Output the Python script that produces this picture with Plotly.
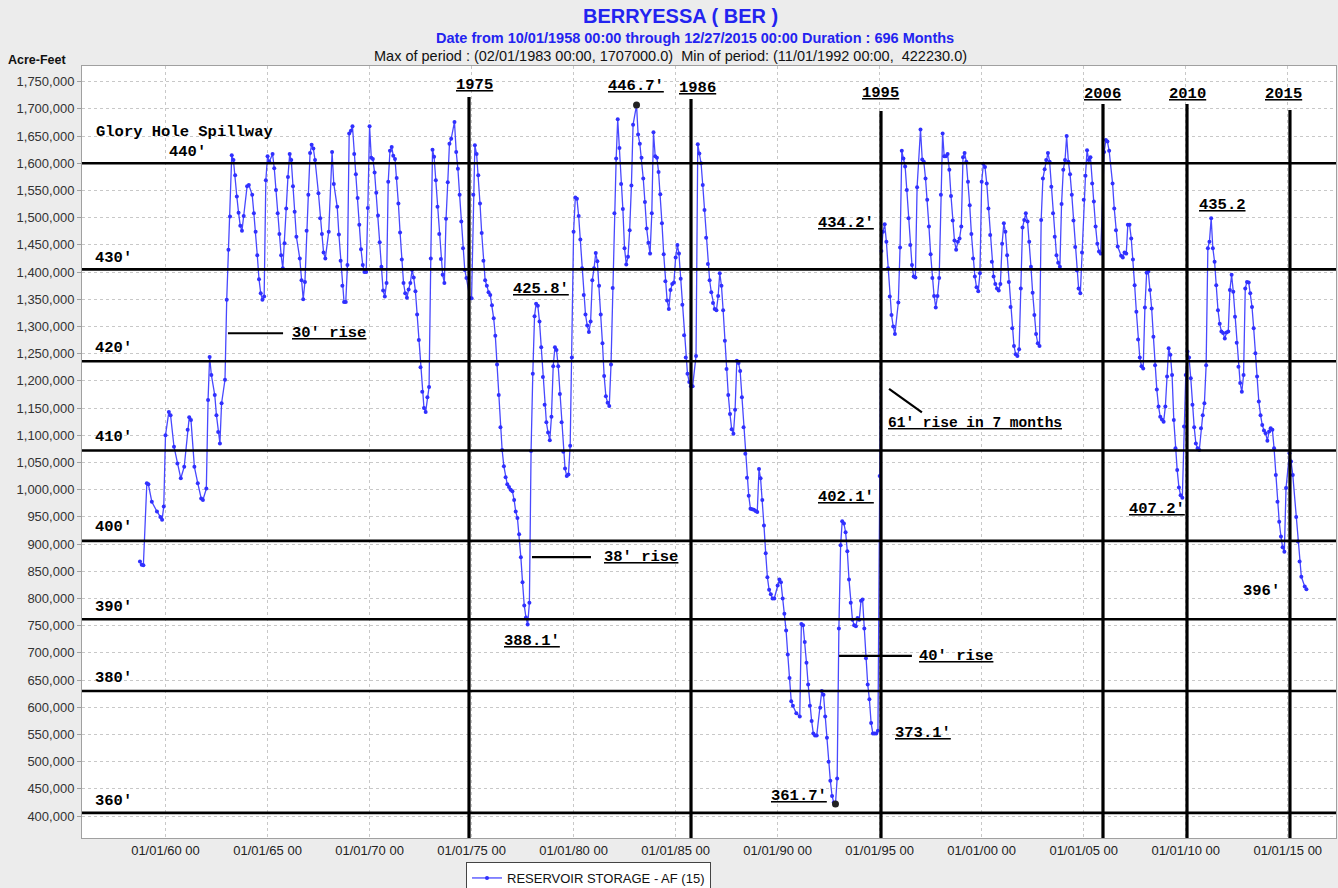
import plotly.graph_objects as go
from datetime import datetime

# ---------------- data ----------------
obs_month = [
    "1958-10", "1958-11", "1958-12",
    "1959-02", "1959-03", "1959-05", "1959-08", "1959-10", "1959-11", "1959-12",
    "1960-01", "1960-03", "1960-04", "1960-06", "1960-08", "1960-10", "1960-12",
    "1961-02", "1961-03", "1961-04", "1961-06", "1961-08", "1961-10", "1961-11",
    "1962-01", "1962-02", "1962-03", "1962-04", "1962-06", "1962-07", "1962-08", "1962-09", "1962-10", "1962-12",
    "1963-01", "1963-02", "1963-03", "1963-04", "1963-05", "1963-06", "1963-07", "1963-08", "1963-09", "1963-10", "1963-11",
    "1964-01", "1964-02", "1964-04", "1964-05", "1964-06", "1964-07", "1964-08", "1964-09", "1964-10", "1964-11", "1964-12",
    "1965-01", "1965-02", "1965-04", "1965-05", "1965-06", "1965-07", "1965-08", "1965-09", "1965-10", "1965-11", "1965-12",
    "1966-01", "1966-02", "1966-03", "1966-04", "1966-05", "1966-06", "1966-08", "1966-09", "1966-10", "1966-11", "1966-12",
    "1967-01", "1967-02", "1967-03", "1967-04", "1967-05", "1967-07", "1967-08", "1967-09", "1967-10", "1967-11",
    "1968-01", "1968-03", "1968-04", "1968-06", "1968-07", "1968-08", "1968-09", "1968-10", "1968-11", "1968-12",
    "1969-01", "1969-02", "1969-03", "1969-04", "1969-05", "1969-06", "1969-07", "1969-08", "1969-09", "1969-10", "1969-11", "1969-12",
    "1970-01", "1970-02", "1970-03", "1970-04", "1970-05", "1970-06", "1970-07", "1970-08", "1970-09", "1970-10", "1970-11", "1970-12",
    "1971-01", "1971-02", "1971-03", "1971-04", "1971-05", "1971-06", "1971-07", "1971-08", "1971-09", "1971-10", "1971-11", "1971-12",
    "1972-01", "1972-02", "1972-03", "1972-04", "1972-05", "1972-06", "1972-07", "1972-08", "1972-09", "1972-10", "1972-11", "1972-12",
    "1973-01", "1973-02", "1973-03", "1973-04", "1973-05", "1973-06", "1973-07", "1973-08", "1973-09", "1973-10", "1973-11", "1973-12",
    "1974-01", "1974-03", "1974-04", "1974-05", "1974-06", "1974-07", "1974-08", "1974-09", "1974-10", "1974-12",
    "1975-01", "1975-02", "1975-03", "1975-04", "1975-05", "1975-06", "1975-07", "1975-08", "1975-09", "1975-10", "1975-11", "1975-12",
    "1976-01", "1976-02", "1976-03", "1976-04", "1976-05", "1976-06", "1976-07", "1976-08", "1976-09", "1976-10", "1976-11", "1976-12",
    "1977-01", "1977-02", "1977-03", "1977-04", "1977-05", "1977-06", "1977-07", "1977-08", "1977-09", "1977-10", "1977-11", "1977-12",
    "1978-01", "1978-02", "1978-03", "1978-04", "1978-05", "1978-06", "1978-07", "1978-08", "1978-09", "1978-10", "1978-11", "1978-12",
    "1979-01", "1979-02", "1979-03", "1979-04", "1979-05", "1979-06", "1979-07", "1979-08", "1979-09", "1979-10", "1979-11", "1979-12",
    "1980-01", "1980-02", "1980-03", "1980-04", "1980-05", "1980-06", "1980-07", "1980-08", "1980-09", "1980-10", "1980-11", "1980-12",
    "1981-01", "1981-02", "1981-03", "1981-04", "1981-05", "1981-06", "1981-07", "1981-08", "1981-09", "1981-10", "1981-11", "1981-12",
    "1982-01", "1982-02", "1982-03", "1982-04", "1982-05", "1982-06", "1982-07", "1982-08", "1982-09", "1982-10", "1982-11", "1982-12",
    "1983-02", "1983-03", "1983-04", "1983-05", "1983-06", "1983-07", "1983-08", "1983-09", "1983-10", "1983-11", "1983-12",
    "1984-01", "1984-02", "1984-03", "1984-04", "1984-05", "1984-06", "1984-07", "1984-08", "1984-09", "1984-10", "1984-11", "1984-12",
    "1985-01", "1985-02", "1985-03", "1985-04", "1985-05", "1985-06", "1985-07", "1985-08", "1985-09", "1985-10", "1985-11",
    "1986-01", "1986-02", "1986-03", "1986-04", "1986-05", "1986-06", "1986-07", "1986-08", "1986-09", "1986-10", "1986-11", "1986-12",
    "1987-01", "1987-02", "1987-03", "1987-04", "1987-05", "1987-06", "1987-07", "1987-08", "1987-09", "1987-10", "1987-11", "1987-12",
    "1988-01", "1988-02", "1988-03", "1988-04", "1988-05", "1988-06", "1988-07", "1988-08", "1988-09", "1988-10", "1988-11", "1988-12",
    "1989-01", "1989-02", "1989-03", "1989-04", "1989-05", "1989-06", "1989-07", "1989-08", "1989-09", "1989-10", "1989-11",
    "1990-01", "1990-02", "1990-03", "1990-04", "1990-05", "1990-06", "1990-07", "1990-08", "1990-09", "1990-10", "1990-12",
    "1991-02", "1991-03", "1991-04", "1991-05", "1991-06", "1991-07", "1991-08", "1991-09", "1991-10", "1991-11", "1991-12",
    "1992-02", "1992-03", "1992-04", "1992-05", "1992-06", "1992-07", "1992-08", "1992-09", "1992-10", "1992-11", "1992-12",
    "1993-01", "1993-02", "1993-03", "1993-04", "1993-05", "1993-06", "1993-07", "1993-08", "1993-09", "1993-10", "1993-11", "1993-12",
    "1994-01", "1994-02", "1994-03", "1994-04", "1994-05", "1994-06", "1994-07", "1994-08", "1994-09", "1994-10", "1994-11", "1994-12",
    "1995-01", "1995-02", "1995-03", "1995-04", "1995-05", "1995-06", "1995-07", "1995-08", "1995-09", "1995-10", "1995-12",
    "1996-01", "1996-02", "1996-03", "1996-04", "1996-05", "1996-06", "1996-07", "1996-08", "1996-09", "1996-10", "1996-11",
    "1997-01", "1997-02", "1997-03", "1997-04", "1997-05", "1997-06", "1997-07", "1997-08", "1997-09", "1997-10", "1997-11", "1997-12",
    "1998-01", "1998-02", "1998-03", "1998-04", "1998-05", "1998-06", "1998-07", "1998-08", "1998-09", "1998-10", "1998-11", "1998-12",
    "1999-01", "1999-02", "1999-03", "1999-04", "1999-05", "1999-06", "1999-07", "1999-08", "1999-09", "1999-10", "1999-11", "1999-12",
    "2000-01", "2000-02", "2000-03", "2000-04", "2000-05", "2000-06", "2000-07", "2000-08", "2000-09", "2000-10", "2000-11", "2000-12",
    "2001-01", "2001-02", "2001-03", "2001-04", "2001-05", "2001-06", "2001-07", "2001-08", "2001-09", "2001-10", "2001-11", "2001-12",
    "2002-01", "2002-02", "2002-03", "2002-04", "2002-05", "2002-06", "2002-07", "2002-08", "2002-09", "2002-10", "2002-11", "2002-12",
    "2003-01", "2003-02", "2003-03", "2003-04", "2003-05", "2003-06", "2003-07", "2003-08", "2003-09", "2003-10", "2003-11", "2003-12",
    "2004-01", "2004-02", "2004-03", "2004-04", "2004-05", "2004-06", "2004-07", "2004-08", "2004-09", "2004-10", "2004-11", "2004-12",
    "2005-01", "2005-02", "2005-03", "2005-04", "2005-05", "2005-06", "2005-07", "2005-08", "2005-09", "2005-10", "2005-11",
    "2006-01", "2006-02", "2006-03", "2006-04", "2006-06", "2006-07", "2006-08", "2006-09", "2006-11", "2006-12",
    "2007-01", "2007-02", "2007-03", "2007-04", "2007-05", "2007-06", "2007-07", "2007-08", "2007-09", "2007-10", "2007-11", "2007-12",
    "2008-01", "2008-02", "2008-03", "2008-04", "2008-05", "2008-06", "2008-07", "2008-08", "2008-09", "2008-10", "2008-11", "2008-12",
    "2009-01", "2009-02", "2009-03", "2009-04", "2009-05", "2009-06", "2009-07", "2009-08", "2009-09", "2009-10", "2009-11", "2009-12",
    "2010-01", "2010-02", "2010-03", "2010-04", "2010-05", "2010-06", "2010-07", "2010-08", "2010-09", "2010-10", "2010-11", "2010-12",
    "2011-01", "2011-02", "2011-03", "2011-04", "2011-05", "2011-06", "2011-07", "2011-08", "2011-09", "2011-10", "2011-11", "2011-12",
    "2012-01", "2012-02", "2012-03", "2012-04", "2012-05", "2012-06", "2012-07", "2012-08", "2012-09", "2012-10", "2012-11", "2012-12",
    "2013-01", "2013-02", "2013-03", "2013-04", "2013-05", "2013-06", "2013-07", "2013-08", "2013-09", "2013-10", "2013-11", "2013-12",
    "2014-01", "2014-02", "2014-03", "2014-04", "2014-05", "2014-06", "2014-07", "2014-08", "2014-09", "2014-10", "2014-11", "2014-12",
    "2015-02", "2015-03", "2015-04", "2015-06", "2015-07", "2015-08", "2015-09", "2015-11", "2015-12",
]

# reservoir storage, thousands of acre-feet
storage_kaf = [
    868, 862, 861,
    1012, 1010, 978, 960, 950, 945, 969,
    1100, 1143, 1137, 1079, 1048, 1021, 1042,
    1110, 1133, 1128, 1042, 1012, 984, 981,
    1002, 1165, 1244, 1211, 1174, 1137, 1106, 1085, 1159, 1202,
    1349, 1441, 1502, 1615, 1606, 1578, 1539, 1509, 1485, 1476, 1503,
    1558, 1560, 1542, 1508, 1474, 1431, 1387, 1361, 1349, 1355, 1569,
    1613, 1603, 1617, 1591, 1551, 1508, 1470, 1431, 1407, 1453, 1517,
    1575, 1617, 1606, 1558, 1511, 1465, 1425, 1385, 1350, 1382, 1476,
    1542, 1619, 1634, 1627, 1606, 1545, 1499, 1470, 1436, 1425,
    1474, 1621, 1562, 1520, 1469, 1421, 1375, 1345, 1345, 1413,
    1655, 1660, 1668, 1617, 1580, 1536, 1487, 1442, 1413, 1400, 1400, 1518,
    1668, 1610, 1608, 1583, 1546, 1504, 1455, 1410, 1366, 1355, 1380, 1566,
    1623, 1630, 1614, 1608, 1573, 1526, 1473, 1423, 1380, 1361, 1353, 1368,
    1380, 1404, 1390, 1365, 1322, 1275, 1225, 1180, 1150, 1143, 1170, 1189,
    1425, 1625, 1612, 1569, 1520, 1470, 1424, 1395, 1380, 1498, 1565, 1636,
    1645, 1676, 1621, 1590, 1542, 1493, 1444, 1404, 1389, 1352,
    1352, 1542, 1633, 1617, 1578, 1526, 1472, 1421, 1385, 1375, 1363, 1358,
    1339, 1315, 1283, 1230, 1174, 1115, 1073, 1043, 1023, 1010, 1005, 1000,
    997, 981, 960, 948, 918, 876, 830, 787, 765, 752, 792, 1071,
    1213, 1319, 1342, 1338, 1309, 1262, 1207, 1156, 1124, 1105, 1091, 1134,
    1227, 1262, 1257, 1227, 1176, 1124, 1070, 1039, 1025, 1028, 1081, 1243,
    1474, 1537, 1535, 1503, 1460, 1407, 1358, 1322, 1302, 1290, 1309, 1385,
    1407, 1435, 1420, 1375, 1322, 1269, 1209, 1172, 1160, 1154, 1230, 1371,
    1508, 1609, 1681, 1628, 1562, 1516, 1444, 1414, 1428, 1477, 1559, 1671,
    1707, 1653, 1636, 1610, 1572, 1529, 1480, 1454, 1434, 1508, 1657,
    1613, 1610, 1584, 1543, 1490, 1433, 1383, 1348, 1332, 1367, 1378, 1381,
    1427, 1450, 1434, 1388, 1340, 1284, 1243, 1213, 1198, 1190, 1190,
    1246, 1635, 1618, 1600, 1560, 1514, 1463, 1415, 1385, 1363, 1343, 1332,
    1330, 1356, 1398, 1375, 1330, 1274, 1222, 1174, 1139, 1111, 1103, 1147,
    1237, 1233, 1218, 1170, 1115, 1066, 1022, 989, 965, 964, 963, 961,
    959, 1038, 1021, 981, 934, 883, 839, 816, 808, 800, 800,
    824, 835, 830, 800, 772, 741, 697, 654, 611, 603, 589,
    583, 753, 751, 720, 682, 642, 603, 575, 552, 548, 548,
    599, 630, 623, 583, 544, 500, 465, 437, 425, 422.23, 469,
    745, 898, 942, 938, 922, 887, 835, 792, 761, 751, 749, 764,
    761, 796, 798, 745, 690, 642, 615, 571, 552, 552, 552, 557,
    1025, 1439, 1474, 1488, 1456, 1407, 1355, 1321, 1300, 1286, 1344,
    1445, 1623, 1609, 1594, 1551, 1499, 1450, 1413, 1392, 1390, 1556,
    1662, 1607, 1603, 1572, 1533, 1484, 1433, 1389, 1356, 1335, 1356, 1389,
    1542, 1655, 1613, 1613, 1617, 1588, 1540, 1495, 1458, 1441, 1456, 1462,
    1484, 1611, 1619, 1603, 1566, 1523, 1470, 1425, 1392, 1372, 1365, 1398,
    1566, 1599, 1593, 1563, 1517, 1468, 1419, 1392, 1378, 1370, 1366, 1378,
    1452, 1490, 1474, 1431, 1382, 1336, 1297, 1264, 1249, 1246, 1258, 1370,
    1482, 1496, 1508, 1493, 1456, 1410, 1362, 1321, 1286, 1269, 1264, 1496,
    1572, 1589, 1606, 1619, 1603, 1557, 1508, 1465, 1431, 1417, 1410, 1525,
    1588, 1606, 1650, 1603, 1580, 1542, 1495, 1446, 1403, 1370, 1361, 1436,
    1533, 1577, 1624, 1606, 1611, 1563, 1530, 1484, 1452, 1438, 1434,
    1621, 1643, 1640, 1623, 1563, 1517, 1477, 1447, 1430, 1427,
    1436, 1434, 1487, 1487, 1462, 1423, 1376, 1327, 1276, 1243, 1227, 1223,
    1335, 1399, 1401, 1367, 1333, 1281, 1229, 1184, 1153, 1134, 1129, 1125,
    1153, 1208, 1260, 1248, 1211, 1128, 1076, 1036, 1004, 990, 985, 1116,
    1211, 1254, 1243, 1205, 1156, 1115, 1085, 1076, 1073, 1113, 1137, 1159,
    1229, 1444, 1456, 1499, 1444, 1419, 1376, 1330, 1305, 1291, 1288, 1278,
    1289, 1291, 1367, 1395, 1364, 1318, 1270, 1226, 1196, 1180, 1211, 1370,
    1382, 1381, 1361, 1336, 1297, 1251, 1208, 1162, 1137, 1119, 1109, 1104,
    1090, 1107, 1113, 1110, 1076, 1027, 978, 941, 914, 894, 886, 1003,
    1067, 1052, 1027, 950, 905, 868, 840, 822, 817,
]
assert len(obs_month) == len(storage_kaf)
storage_af = [round(v * 1000) for v in storage_kaf]

# reference elevation lines (storage at each lake level)
elev_labels = ["440'", "430'", "420'", "410'", "400'", "390'", "380'", "360'"]
elev_storage = [1600000, 1405000, 1236000, 1072000, 906000, 762000, 630000, 406000]

# year marker lines (labels)
year_labels = ["1975", "1986", "1995", "2006", "2010", "2015"]

y_ticks = list(range(400000, 1750001, 50000))

# ---------------- helpers ----------------
def ydate(t):
    y = int(t)
    a, b = datetime(y, 1, 1), datetime(y + 1, 1, 1)
    return (a + (b - a) * (t - y)).strftime("%Y-%m-%d %H:%M:%S")

Y_MIN, Y_MAX = 359770, 1778860
X_MIN, X_MAX = ydate(1955.908), ydate(2017.363)

MONO = "Liberation Mono, Courier New, monospace"
SANS = "Liberation Sans, Arial, sans-serif"
LINE_BLUE = "#4848ff"

fig = go.Figure()

fig.add_trace(go.Scatter(
    x=obs_month, y=storage_af, mode="lines+markers",
    name="RESERVOIR STORAGE - AF (15)",
    line=dict(color=LINE_BLUE, width=1.3),
    marker=dict(color="#3030ff", size=4),
))

# max / min of period markers
imax = max(range(len(storage_af)), key=lambda i: storage_af[i])
imin = min(range(len(storage_af)), key=lambda i: storage_af[i])
fig.add_trace(go.Scatter(
    x=[obs_month[imax], obs_month[imin]], y=[storage_af[imax], storage_af[imin]],
    mode="markers", showlegend=False, hoverinfo="skip",
    marker=dict(color="#222222", size=7),
))

shapes = []
# horizontal elevation lines
for v in elev_storage:
    shapes.append(dict(type="line", xref="paper", x0=0, x1=1, yref="y", y0=v, y1=v,
                       line=dict(color="black", width=2.6), layer="above"))

# vertical year lines: (decimal year, top storage)
year_line_pos = [(1974.874, 1721900), (1985.753, 1718200), (1995.065, 1696100),
                 (2005.944, 1709000), (2010.061, 1709000), (2015.108, 1698000)]
for t, top in year_line_pos:
    shapes.append(dict(type="line", xref="x", x0=ydate(t), x1=ydate(t), yref="y",
                       y0=Y_MIN, y1=top, line=dict(color="black", width=3.2), layer="above"))

# short "rise" pointer lines
for (t0, t1, v) in [(1963.06, 1965.76, 1287600), (1977.96, 1980.85, 876100), (1993.01, 1996.58, 694400)]:
    shapes.append(dict(type="line", xref="x", x0=ydate(t0), x1=ydate(t1), yref="y", y0=v, y1=v,
                       line=dict(color="black", width=2.2), layer="above"))
shapes.append(dict(type="line", xref="x", x0=ydate(1995.46), x1=ydate(1997.07), yref="y",
                   y0=1185300, y1=1142300, line=dict(color="black", width=2.2), layer="above"))

annotations = []

def note(text, t, v, under=True, size=15.5):
    annotations.append(dict(
        x=ydate(t), y=v, xref="x", yref="y", text=text, showarrow=False,
        xanchor="left", yanchor="middle",
        font=dict(family=MONO, size=size, color="black", weight="bold",
                  lineposition="under" if under else "none"),
    ))

note("Glory Hole Spillway", 1956.50, 1657500, under=False)
note(elev_labels[0], 1960.05, 1620800, under=False)
elev_label_storage = [None, 1425900, 1260500, 1096900, 931500, 784400, 653900, 428000]
for lab, v in zip(elev_labels[1:], elev_label_storage[1:]):
    note(lab, 1956.45, v, under=False)

year_label_pos = [(1974.14, 1743800), (1985.07, 1738400), (1994.04, 1729200),
                  (2004.92, 1727400), (2009.08, 1727400), (2013.79, 1727400)]
for lab, (t, v) in zip(year_labels, year_label_pos):
    note(lab, t, v)

note("30' rise", 1966.10, 1287600)
note("446.7'", 1981.59, 1742000)
note("425.8'", 1976.93, 1368900)
note("38' rise", 1981.39, 876100)
note("388.1'", 1976.49, 721700)
note("434.2'", 1991.88, 1490300)
note("61' rise in 7 months", 1995.31, 1122800, size=14.5)
note("402.1'", 1991.88, 986600)
note("40' rise", 1996.83, 694400)
note("373.1'", 1995.65, 552800)
note("361.7'", 1989.58, 437000)
note("435.2", 2010.55, 1523000)
note("407.2'", 2007.12, 964000)
note("396'", 2012.71, 813300, under=False)

# titles (positioned by page pixel -> paper fraction)
def title_note(text, xpix, ypix, size, color, bold):
    annotations.append(dict(
        text=text, xref="paper", yref="paper",
        x=(xpix - 82) / 1254.0, y=(838 - ypix) / 772.0,
        showarrow=False, xanchor="center", yanchor="middle",
        font=dict(family=SANS, size=size, color=color, weight="bold" if bold else "normal"),
    ))

title_note("BERRYESSA ( BER )", 680, 16, 20, "#2323f0", True)
title_note("Date from 10/01/1958 00:00 through 12/27/2015 00:00 Duration : 696 Months", 695, 38, 14.5, "#2323f0", True)
title_note("Max of period : (02/01/1983 00:00, 1707000.0)  Min of period: (11/01/1992 00:00,  422230.0)", 670, 56, 14.5, "#111111", False)
title_note("Acre-Feet", 37, 60, 12.5, "#111111", True)

fig.update_layout(
    width=1338, height=888,
    margin=dict(l=82, r=2, t=66, b=50, autoexpand=False),
    paper_bgcolor="#ececec",
    plot_bgcolor="white",
    showlegend=True,
    legend=dict(xref="container", yref="container", x=466 / 1338, y=(888 - 862) / 888,
                xanchor="left", yanchor="top",
                bgcolor="white", bordercolor="#444444", borderwidth=1,
                font=dict(family=SANS, size=13, color="#111111")),
    shapes=shapes,
    annotations=annotations,
    xaxis=dict(
        type="date", range=[X_MIN, X_MAX], automargin=False,
        tick0="1960-01-01", dtick="M60", tickformat="%m/%d/%y %H",
        showgrid=True, gridcolor="#c8c8c8", griddash="dot", gridwidth=1,
        showline=True, linecolor="#a0a0a0", mirror=True,
        ticks="", tickfont=dict(family=SANS, size=13, color="#222222"),
        zeroline=False,
    ),
    yaxis=dict(
        range=[Y_MIN, Y_MAX], tickvals=y_ticks, tickformat=",d", automargin=False,
        showgrid=True, gridcolor="#c8c8c8", griddash="dot", gridwidth=1,
        showline=True, linecolor="#a0a0a0", mirror=True,
        ticks="outside", ticklen=4, tickcolor="#a0a0a0",
        tickfont=dict(family=SANS, size=13, color="#333333"),
        zeroline=False,
    ),
)

# remove the browser's default 8px page margin so the figure sits at the window origin
fig.write_html(
    "out.html",
    config={"displayModeBar": False},
    post_script="document.body.style.margin='0px';document.body.style.overflow='hidden';",
)
